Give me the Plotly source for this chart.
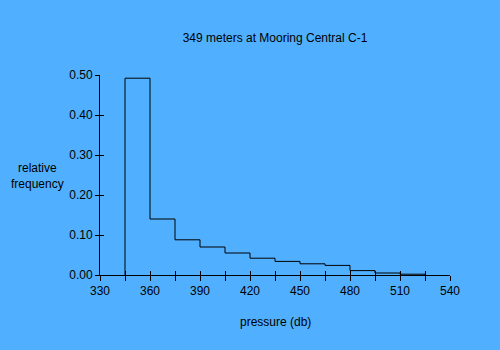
import plotly.graph_objects as go

bin_left = [345, 360, 375, 390, 405, 420, 435, 450, 465, 480, 495, 510]
bin_width = 15
freq = [0.492, 0.140, 0.088, 0.070, 0.055, 0.042, 0.034, 0.028, 0.024, 0.011, 0.005, 0.002]
x_ticks = [330, 360, 390, 420, 450, 480, 510, 540]
y_ticks = [0.0, 0.1, 0.2, 0.3, 0.4, 0.5]

bg = "#50B0FF"
font = dict(family="Arial, Liberation Sans, sans-serif", size=12, color="black")

# stepped outline of the histogram
step_x = [bin_left[0]] + bin_left + [bin_left[-1] + bin_width]
step_y = [0] + freq + [0]

fig = go.Figure()
fig.add_trace(go.Scatter(
    x=step_x, y=step_y, mode="lines", line=dict(color="black", width=1, shape="hv"),
    hoverinfo="skip", showlegend=False, cliponaxis=False,
))

xr = [330, 540]
yr = [0, 0.5]
minor_x = list(range(330, 541, 15))
fig.update_layout(
    width=500, height=350,
    margin=dict(l=100, r=50, t=75, b=75),
    paper_bgcolor=bg, plot_bgcolor=bg,
    font=font,
    xaxis=dict(range=xr, tickvals=minor_x,
               ticktext=[str(v) if v in x_ticks else "" for v in minor_x],
               ticks="outside", ticklen=5, tickcolor="black", tickwidth=1,
               showline=True, linecolor="black", linewidth=1,
               showgrid=False, zeroline=False, fixedrange=True),
    xaxis2=dict(range=xr, overlaying="x", side="bottom", tickvals=minor_x,
                ticks="inside", ticklen=4, tickcolor="black", showticklabels=False,
                showline=False, showgrid=False, zeroline=False),
    yaxis=dict(range=yr, tickvals=y_ticks, tickformat=".2f",
               ticks="outside", ticklen=4, tickcolor="black",
               showline=True, linecolor="black", linewidth=1,
               showgrid=False, zeroline=False),
    yaxis2=dict(range=yr, overlaying="y", side="left", tickvals=y_ticks,
                ticks="inside", ticklen=4, tickcolor="black", showticklabels=False,
                showline=False, showgrid=False, zeroline=False),
    title=dict(text="349 meters at Mooring Central C-1", x=275/500, xanchor="center",
               y=1 - 38/350, yanchor="middle", font=dict(size=12)),
)
# invisible trace to activate overlaid axes
fig.add_trace(go.Scatter(x=[xr[0]], y=[yr[0]], xaxis="x2", yaxis="y2", mode="markers",
                         marker=dict(opacity=0), showlegend=False, hoverinfo="skip"))

fig.add_annotation(text="pressure (db)", xref="paper", yref="paper", x=0.5, y=-47/200,
                   showarrow=False, xanchor="center", yanchor="middle", font=dict(size=12))
fig.add_annotation(text="relative<br>frequency", xref="paper", yref="paper",
                   x=-63/350, y=(275-176)/200, showarrow=False,
                   xanchor="center", yanchor="middle", font=dict(size=12))

fig.write_html("out.html")
